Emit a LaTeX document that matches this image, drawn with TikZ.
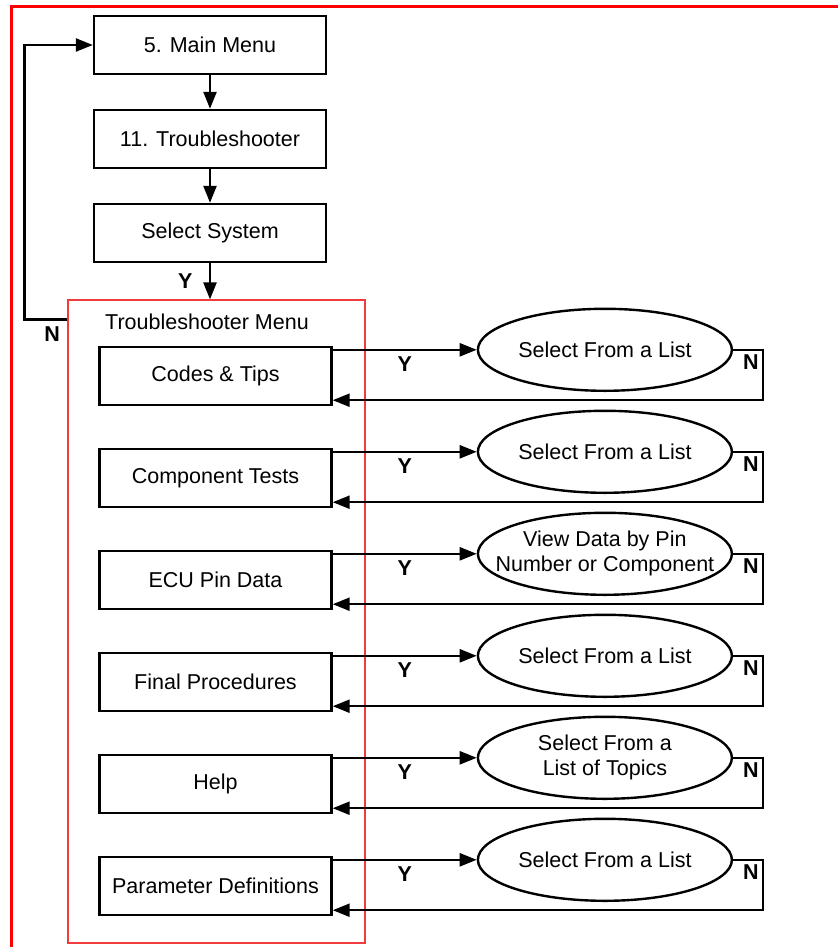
\documentclass[tikz,border=0pt]{standalone}
\usepackage{fontspec}
\setmainfont{Liberation Sans}
\usepackage{xcolor}
\usepackage{tikz}
\usetikzlibrary{arrows.meta,positioning,shapes.geometric,calc}

\definecolor{framered}{RGB}{255,0,0}
\definecolor{menured}{RGB}{240,60,60}

\begin{document}
\begin{tikzpicture}[
  x=1pt, y=-1pt,
  node distance=33.6pt and 144pt,
  >={Triangle[length=17pt,width=13pt]},
  box/.style={draw, line width=2.4pt, align=center, minimum width=232pt, minimum height=58pt, inner sep=0pt, font=\fontsize{21.5}{25}\selectfont},
  sel/.style={draw, ellipse, line width=2.4pt, align=center, minimum width=254pt, minimum height=82pt, inner sep=0pt, font=\fontsize{21.5}{25}\selectfont},
  menubox/.style={draw=menured, line width=1.2pt, minimum width=297pt, minimum height=643pt, inner sep=0pt},
  yn/.style={font=\fontsize{21.5}{25}\selectfont\bfseries},
  line/.style={->, line width=2.4pt}
]

\useasboundingbox (0,0) rectangle (838,947);
\draw[framered, line width=3pt] (11,947) -- (11,7) -- (838,7);

\node[box] (main) at (210,45) {5. Main Menu};
\node[box, below=of main] (trouble) {11. Troubleshooter};
\node[box, below=of trouble] (system) {Select System};

\node[menubox] (menu) at (216.5,621.5) {};
\node[font=\fontsize{21.5}{25}\selectfont] (menutitle) at ($(menu.north)+(-9.5,22)$) {Troubleshooter Menu};

\node[box] (codes) at (215.5,376) {Codes \& Tips};
\node[box, below=41.6pt of codes] (comp) {Component Tests};
\node[box, below=41.6pt of comp] (ecu) {ECU Pin Data};
\node[box, below=41.6pt of ecu] (final) {Final Procedures};
\node[box, below=41.6pt of final] (help) {Help};
\node[box, below=41.6pt of help] (param) {Parameter Definitions};

\node[sel, right=of codes.north east, yshift=-4pt] (selcodes) {Select From a List};
\node[sel, right=of comp.north east, yshift=-4pt] (selcomp) {Select From a List};
\node[sel, inner xsep=-22pt, right=of ecu.north east, yshift=-4pt] (selecu) {View Data by Pin\\Number or Component};
\node[sel, right=of final.north east, yshift=-4pt] (selfinal) {Select From a List};
\node[sel, right=of help.north east, yshift=-4pt] (selhelp) {Select From a\\List of Topics};
\node[sel, right=of param.north east, yshift=-4pt] (selparam) {Select From a List};

\draw[line] (main) -- (trouble);
\draw[line] (trouble) -- (system);
\draw[line] (system.south) -- node[yn, left=13pt] {Y} (system.south |- menu.north);
\draw[line] ($(menu.north west)+(0,20)$) node[yn, below left=3pt and 3pt] {N} -- ++(-43,0) |- (main.west);

\draw[line] (codes.east |- selcodes.west) -- node[yn, below=2pt] {Y} (selcodes.west);
\draw[line] (selcodes.east) -- ++(30,0) node[yn, below left] {N} |- ($(codes.south east)+(0,-6)$);
\draw[line] (comp.east |- selcomp.west) -- node[yn, below=2pt] {Y} (selcomp.west);
\draw[line] (selcomp.east) -- ++(30,0) node[yn, below left] {N} |- ($(comp.south east)+(0,-6)$);
\draw[line] (ecu.east |- selecu.west) -- node[yn, below=2pt] {Y} (selecu.west);
\draw[line] (selecu.east) -- ++(30,0) node[yn, below left] {N} |- ($(ecu.south east)+(0,-6)$);
\draw[line] (final.east |- selfinal.west) -- node[yn, below=2pt] {Y} (selfinal.west);
\draw[line] (selfinal.east) -- ++(30,0) node[yn, below left] {N} |- ($(final.south east)+(0,-6)$);
\draw[line] (help.east |- selhelp.west) -- node[yn, below=2pt] {Y} (selhelp.west);
\draw[line] (selhelp.east) -- ++(30,0) node[yn, below left] {N} |- ($(help.south east)+(0,-6)$);
\draw[line] (param.east |- selparam.west) -- node[yn, below=2pt] {Y} (selparam.west);
\draw[line] (selparam.east) -- ++(30,0) node[yn, below left] {N} |- ($(param.south east)+(0,-6)$);

\end{tikzpicture}
\end{document}
